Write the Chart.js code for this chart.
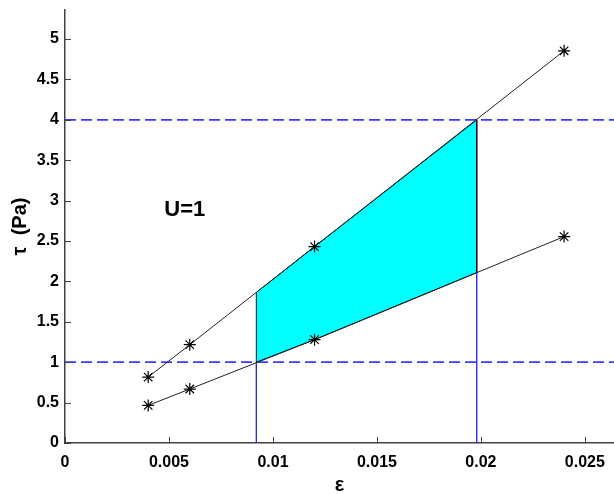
<!DOCTYPE html>
<html>
<head>
<meta charset="utf-8">
<script src="https://cdn.jsdelivr.net/npm/chart.js@4.4.1/dist/chart.umd.min.js"></script>
<style>
  html, body { margin: 0; padding: 0; background: #fff; }
  #wrap { width: 614px; height: 494px; }
</style>
</head>
<body>
<div id="wrap"><canvas id="myChart" width="614" height="494"></canvas></div>
<script>
// datos
const strainPts = [0.004, 0.006, 0.012, 0.024];
const tauUpper = [0.816, 1.217, 2.431, 4.855];
const tauLower = [0.465, 0.668, 1.279, 2.555];

// zona sombreada (cian)
const regionX = [0.0092, 0.0092, 0.012, 0.0198, 0.0198, 0.012, 0.0092];
const regionY = [1.0, 1.864, 2.431, 4.0, 2.109, 1.279, 1.0];

// líneas de referencia
const tauLimits = [1, 4];
const strainLimits = [0.0092, 0.0198];
const strainLimitTops = [1.0, 2.109];

const xMax = 0.0264;
const yMax = 5.36;
const xTicks = [0, 0.005, 0.01, 0.015, 0.02, 0.025];
const yTicks = [0, 0.5, 1, 1.5, 2, 2.5, 3, 3.5, 4, 4.5, 5];

const noteText = 'U=1';
const notePos = [0.00576, 2.885];

const toPts = (xs, ys) => xs.map((x, i) => ({ x: x, y: ys[i] }));

const datasets = [];

// polígono cian
datasets.push({
  data: toPts(regionX, regionY),
  borderColor: '#111',
  borderWidth: 1,
  backgroundColor: '#00ffff',
  fill: 'shape',
  pointRadius: 0,
  order: 5
});

// líneas horizontales discontinuas
tauLimits.forEach(v => {
  datasets.push({
    data: [{ x: 0, y: v }, { x: xMax, y: v }],
    borderColor: '#3b3bff',
    borderWidth: 1.8,
    borderDash: [11, 5],
    pointRadius: 0,
    fill: false,
    order: 3
  });
});

// líneas verticales azules
strainLimits.forEach((v, i) => {
  datasets.push({
    data: [{ x: v, y: 0 }, { x: v, y: strainLimitTops[i] }],
    borderColor: '#1f1fff',
    borderWidth: 1.3,
    pointRadius: 0,
    fill: false,
    order: 3
  });
});

// series con asteriscos
[tauUpper, tauLower].forEach(ys => {
  datasets.push({
    data: toPts(strainPts, ys),
    borderColor: '#222',
    borderWidth: 1,
    pointStyle: 'star',
    pointRadius: 6,
    pointBorderColor: '#000',
    pointBorderWidth: 1.2,
    pointBackgroundColor: '#000',
    fill: false,
    order: 1
  });
});

// ticks hacia dentro + texto U=1
const innerTicks = {
  id: 'innerTicks',
  afterDraw(chart) {
    const ctx = chart.ctx;
    const xs = chart.scales.x, ys = chart.scales.y;
    const a = chart.chartArea;
    ctx.save();
    ctx.strokeStyle = '#404040';
    ctx.lineWidth = 1;
    xTicks.forEach(t => {
      const px = Math.round(xs.getPixelForValue(t)) + 0.5;
      ctx.beginPath(); ctx.moveTo(px, a.bottom); ctx.lineTo(px, a.bottom - 6); ctx.stroke();
    });
    yTicks.forEach(t => {
      const py = Math.round(ys.getPixelForValue(t)) + 0.5;
      ctx.beginPath(); ctx.moveTo(a.left, py); ctx.lineTo(a.left + 6, py); ctx.stroke();
    });
    ctx.fillStyle = '#000';
    ctx.font = 'bold 22px "Liberation Sans", Arial, sans-serif';
    ctx.textAlign = 'center';
    ctx.textBaseline = 'middle';
    ctx.fillText(noteText, xs.getPixelForValue(notePos[0]), ys.getPixelForValue(notePos[1]));
    ctx.restore();
  }
};

const tickFont = { family: '"Liberation Sans", Arial, sans-serif', size: 16, weight: 'bold' };
const titleFont = { family: '"Liberation Sans", Arial, sans-serif', size: 20, weight: 'bold' };

// quitar el relleno que Chart.js reserva para las etiquetas
const noPad = s => { s.paddingLeft = 0; s.paddingRight = 0; s.paddingTop = 0; s.paddingBottom = 0; };

const config = {
  type: 'line',
  data: { datasets: datasets },
  options: {
    responsive: false,
    animation: false,
    layout: { autoPadding: false, padding: { top: 10, right: 0, bottom: 0, left: 0 } },
    plugins: { legend: { display: false }, tooltip: { enabled: false } },
    scales: {
      x: {
        type: 'linear',
        min: 0,
        max: xMax,
        afterFit: s => { s.height = 51; noPad(s); },
        grid: { display: false, drawTicks: false },
        border: { display: true, color: '#404040', width: 1.5 },
        ticks: {
          stepSize: 0.005,
          includeBounds: false,
          padding: 10,
          color: '#000',
          font: tickFont,
          maxRotation: 0,
          callback: v => String(+v.toFixed(3))
        },
        title: { display: true, text: 'ε', color: '#000', font: titleFont, padding: { top: 0, bottom: -3 } }
      },
      y: {
        type: 'linear',
        min: 0,
        max: yMax,
        afterFit: s => { s.width = 65; noPad(s); },
        grid: { display: false, drawTicks: false },
        border: { display: true, color: '#404040', width: 1.5 },
        ticks: {
          stepSize: 0.5,
          includeBounds: false,
          padding: 6,
          color: '#000',
          font: tickFont,
          callback: v => String(+v.toFixed(1))
        },
        title: { display: true, text: 'τ  (Pa)', color: '#000', font: titleFont, padding: { top: 8, bottom: 0 } }
      }
    }
  },
  plugins: [innerTicks]
};

const myChart = new Chart(document.getElementById('myChart'), config);
</script>
</body>
</html>
